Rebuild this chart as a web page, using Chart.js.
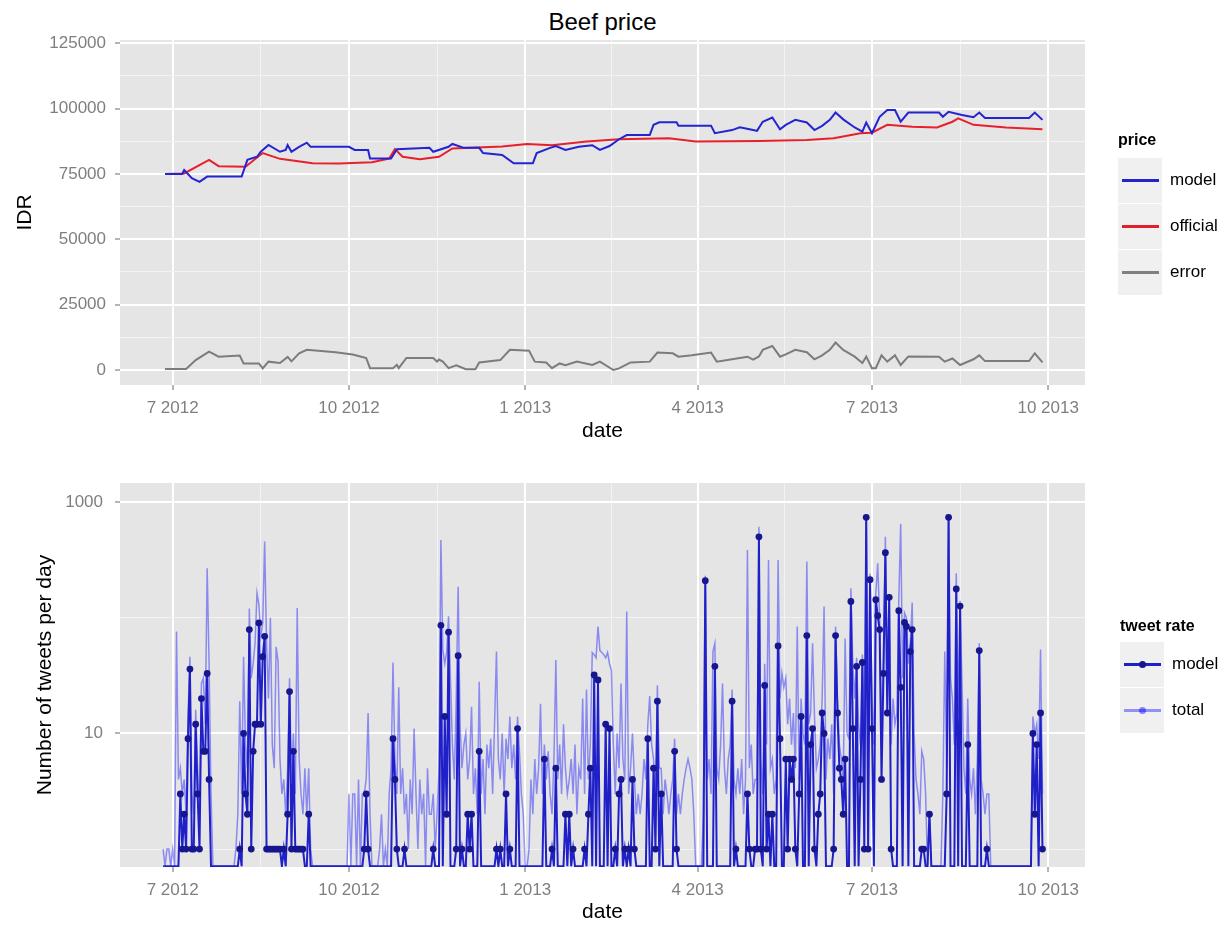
<!DOCTYPE html>
<html>
<head>
<meta charset="utf-8">
<title>Beef price</title>
<script src="https://cdn.jsdelivr.net/npm/chart.js@4.4.0/dist/chart.umd.min.js"></script>
<style>
  body { margin: 0; background: #fff; font-family: 'Liberation Sans', Arial, sans-serif; }
  #fig { position: relative; width: 1228px; height: 927px; overflow: hidden; background: #fff; }
  #fig canvas { position: absolute; left: 0; }
  .title { position: absolute; left: 120px; width: 965px; text-align: center; font-size: 24px; color: #000; }
  .lg-title { position: absolute; font-weight: bold; font-size: 16px; color: #000; line-height: 20px; }
  .key { position: absolute; width: 44px; height: 45px; background: #f0f0f0; }
  .key i { position: absolute; left: 4px; width: 37px; top: 21px; height: 3px; }
  .key b { position: absolute; left: 19px; top: 19px; width: 7px; height: 7px; border-radius: 50%; }
  .lab { position: absolute; font-size: 17px; color: #000; line-height: 20px; }
</style>
</head>
<body>
<div id="fig">
  <div class="title" style="top:8px">Beef price</div>
  <canvas id="priceChart" width="1228" height="460" style="top:0"></canvas>
  <canvas id="tweetChart" width="1228" height="467" style="top:460px"></canvas>

  <div class="lg-title" style="left:1118px;top:130px">price</div>
  <div class="key" style="left:1118px;top:158px"><i style="background:#2424c8"></i></div>
  <div class="lab" style="left:1170px;top:170px">model</div>
  <div class="key" style="left:1118px;top:204px"><i style="background:#e0202c"></i></div>
  <div class="lab" style="left:1170px;top:216px">official</div>
  <div class="key" style="left:1118px;top:250px"><i style="background:#808080"></i></div>
  <div class="lab" style="left:1170px;top:262px">error</div>

  <div class="lg-title" style="left:1120px;top:616px">tweet rate</div>
  <div class="key" style="left:1120px;top:642px"><i style="background:#2020c8"></i><b style="background:#16168f"></b></div>
  <div class="lab" style="left:1172px;top:654px">model</div>
  <div class="key" style="left:1120px;top:688px"><i style="background:rgba(0,0,255,0.4)"></i><b style="background:rgba(0,0,255,0.45)"></b></div>
  <div class="lab" style="left:1172px;top:700px">total</div>
</div>

<script>
// All x values are days counted from this date.
const EPOCH = '2012-07-01';
const dayOf = s => (Date.parse(s) - Date.parse(EPOCH)) / 864e5;

// x-axis breaks (month, year)
const monthTicks  = ['2012-07-01', '2012-10-01', '2013-01-01', '2013-04-01', '2013-07-01', '2013-10-01'];
const monthLabels = ['7 2012', '10 2012', '1 2013', '4 2013', '7 2013', '10 2013'];

// y-axis breaks
const priceTicks = [0, 25000, 50000, 75000, 100000, 125000];
const tweetTicks = [10, 1000];
const tweetMinorTicks = [1, 100];

// Beef price, IDR: [day since 2012-07-01, price]
const modelPrice = [
  [-4,75000],[5,75000],[6,76500],[10,73400],[14,72000],[18,74000],[36,74000],[39,80400],
  [44,81600],[46,83500],[50,86100],[56,83500],[59,84200],[60,86100],[62,83500],[66,85400],
  [70,87000],[72,85400],[92,85400],[95,84200],[102,84200],[103,80900],[114,80900],[117,84500],
  [134,85000],[136,83500],[144,85400],[146,86500],[152,85000],[160,85000],[162,83000],[172,82300],
  [178,79100],[188,79100],[190,83000],[197,85000],[200,85700],[205,84200],[212,85400],[219,86000],
  [223,84200],[228,85700],[233,88300],[237,89900],[249,89900],[251,93800],[254,94800],[263,94800],
  [264,93500],[281,93500],[283,90600],[292,91800],[296,92900],[303,91800],[305,91500],[308,95000],
  [313,96600],[317,92100],[320,93800],[325,95700],[331,94700],[335,91800],[339,93400],[343,95700],
  [346,98500],[350,95900],[356,92800],[360,91200],[362,94700],[365,90600],[369,96900],[373,99500],
  [377,99500],[380,95000],[384,98500],[400,98500],[402,96900],[405,98800],[412,97600],[418,96700],
  [421,98500],[424,96400],[447,96400],[450,98500],[454,95700]
];
const officialPrice = [
  [-4,75000],[6,75200],[19,80400],[24,78000],[38,77800],[47,83000],[56,80800],[73,79100],
  [87,79000],[104,79500],[113,80900],[116,84500],[120,81600],[129,80600],[139,81600],[146,84800],
  [172,85500],[185,86500],[198,86000],[216,87400],[233,88300],[259,88700],[273,87400],[306,87600],
  [331,88000],[345,88700],[359,90600],[365,90800],[373,93800],[386,93100],[399,92800],[407,95000],
  [410,96300],[418,93800],[435,92800],[454,92100]
];
const priceError = [
  [-4,400],[7,400],[12,3800],[19,7000],[24,5100],[35,5500],[37,2500],[45,2500],[47,600],
  [50,3200],[56,2700],[60,5000],[62,3300],[66,6400],[70,7700],[85,6800],[94,5900],[101,4600],
  [103,700],[115,700],[117,2000],[118,700],[122,4600],[136,4600],[138,3200],[139,4000],[141,3200],
  [144,700],[148,1800],[153,300],[158,300],[160,2900],[171,3800],[176,7700],[186,7400],[189,3200],
  [195,2900],[198,700],[202,2500],[205,1800],[211,3200],[219,1900],[223,3200],[230,0],[233,600],
  [239,2900],[249,3200],[253,6700],[261,6400],[264,5100],[271,5600],[281,6700],[284,3200],
  [292,4100],[300,5100],[303,4000],[306,5200],[308,7700],[313,9200],[317,5100],[320,6000],
  [325,7700],[331,6800],[335,4100],[339,5600],[343,7700],[346,10500],[350,7700],[356,5100],
  [360,2700],[362,5100],[365,700],[367,700],[370,5600],[373,3200],[377,5600],[380,1900],
  [384,5200],[400,5100],[403,3200],[407,4400],[411,1900],[418,4100],[421,5600],[424,3400],
  [447,3400],[450,6400],[454,2900]
];

// Tweets per day, one value per day starting on this date
const tweetFirstDay = '2012-06-26';
const modelTweets = [
  0,0,0,0,0,0,0,0,0,3,        1,2,1,9,36,1,1,12,3,1,
  20,7,7,33,4,0,0,0,0,0,      0,0,0,0,0,0,0,0,0,0,
  1,0,10,3,2,79,1,7,12,12,    90,12,46,69,1,1,1,1,1,1,
  1,1,0,1,0,2,23,1,7,1,       1,1,1,1,0,0,2,0,0,0,
  0,0,0,0,0,0,0,0,0,0,        0,0,0,0,0,0,0,0,0,0,
  0,0,0,0,0,1,3,1,0,0,        0,0,0,0,0,0,0,0,0,0,
  9,4,1,0,0,0,1,0,0,0,        0,0,0,0,0,0,0,0,0,0,
  0,1,0,0,0,86,0,14,2,75,     0,0,0,1,47,0,1,0,0,2,
  1,2,0,0,0,7,0,0,0,0,        0,0,0,0,1,0,1,0,0,3,
  0,1,0,0,0,11,0,0,0,0,       0,0,0,0,0,0,0,0,0,6,
  0,0,0,1,0,5,0,0,0,0,        2,0,2,0,1,0,0,0,0,0,
  1,0,2,5,0,32,0,29,0,0,      0,12,0,11,0,0,1,0,3,4,
  0,1,0,1,0,4,1,0,0,0,        0,0,0,9,0,0,5,1,19,0,
  3,0,0,0,0,0,0,7,1,0,        0,0,0,0,0,0,0,0,0,0,
  0,0,0,209,0,0,0,0,38,0,     0,0,0,0,0,0,0,19,0,1,
  0,0,0,0,0,3,1,0,0,1,        1,500,1,0,26,1,2,0,2,0,
  0,57,9,0,0,6,1,6,4,6,       1,0,3,14,0,0,70,0,8,11,
  1,0,2,3,15,10,0,0,0,0,      1,70,15,5,4,2,6,0,0,138,
  11,0,38,0,4,41,1,738,1,213, 11,0,143,104,79,4,33,365,15,150,
  1,0,0,0,115,25,0,91,84,0,   51,79,0,0,0,0,1,1,0,0,
  2,0,0,0,0,0,0,0,0,3,        738,0,0,0,177,0,126,0,0,0,
  8,0,0,0,0,0,52,0,0,0,       1,0,0,0,0,0,0,0,0,0,
  0,0,0,0,0,0,0,0,0,0,        0,0,0,0,10,2,8,0,15,1
];
const totalTweets = [
  1,0,1,1,0,1,0,76,4,5,       3,4,2,14,46,3,2,16,5,2,
  27,30,12,268,40,3,0,0,0,0,  0,0,0,0,0,0,0,0,1,2,
  19,3,46,8,5,120,30,40,60,163, 130,70,90,455,60,20,100,8,5,56,
  42,6,3,4,2,5,30,4,10,3,     121,6,3,2,5,2,5,1,0,0,
  0,0,0,0,0,0,0,0,0,0,        0,0,0,0,0,0,0,3,0,3,
  3,0,4,0,3,3,4,15,2,0,       0,0,0,1,2,0,1,0,3,5,
  41,6,3,25,3,5,2,3,1,4,      2,11,3,1,4,2,3,0,5,2,
  2,3,1,2,5,470,53,40,50,103, 30,8,4,20,185,12,5,8,10,4,
  6,17,3,5,2,28,3,6,2,8,      5,9,3,12,51,6,4,10,3,9,
  6,14,5,8,4,14,7,3,2,0,      0,1,4,2,6,3,5,18,3,8,
  4,7,3,2,6,43,4,8,3,12,      5,3,4,6,3,8,2,5,4,20,
  3,24,4,8,50,48,45,84,52,50, 48,45,50,40,35,8,3,10,5,27,
  6,4,113,3,5,10,4,2,3,2,     3,6,4,12,21,8,6,3,26,5,
  5,2,4,3,2,3,4,9,2,3,        2,3,4,5,6,5,4,2,0,0,
  0,0,2,230,4,6,3,51,60,5,    4,8,27,5,3,6,8,24,4,3,
  5,3,6,2,4,385,5,8,3,4,      4,612,6,3,40,8,315,5,6,3,
  4,315,20,33,25,30,12,20,8,15, 5,84,4,20,10,8,306,12,15,60,
  14,5,6,8,20,125,4,9,6,12,   3,84,20,8,6,4,66,10,9,180,
  40,20,45,12,8,48,10,760,15,240, 20,8,160,295,100,10,45,500,30,160,
  8,20,12,15,140,650,30,110,100,40, 60,135,10,4,3,2,7,6,3,0,
  2,0,0,0,0,0,0,3,51,5,       760,30,20,8,242,15,140,27,5,3,
  20,4,3,5,2,6,60,4,3,2,      3,3,0,0,0,0,0,0,0,0,
  0,0,0,0,0,0,0,0,0,0,        0,0,0,0,14,10,12,6,53,3
];

// ---------- shared axis helpers ----------
Chart.defaults.font.family = "'Liberation Sans', Arial, sans-serif";
Chart.defaults.color = '#7f7f7f';

const xMajor = monthTicks.map(dayOf);
const xMinor = xMajor.slice(1).map((d, i) => (d + xMajor[i]) / 2);
const X_MIN = -27.5, X_MAX = 476.2;
const TWEET_MIN = 0.71, TWEET_MAX = 1460;

function gridStyle(majors) {
  const isMajor = c => c.tick && majors.includes(c.tick.value);
  return {
    color: c => isMajor(c) ? '#ffffff' : '#f3f3f3',
    lineWidth: c => isMajor(c) ? 2 : 1,
    tickColor: c => isMajor(c) ? '#6a6a6a' : 'rgba(0,0,0,0)',
    tickLength: 5,
    tickWidth: 1,
    drawTicks: true
  };
}

function dateAxis(axisHeight, titlePad) {
  return {
    type: 'linear',
    min: X_MIN, max: X_MAX,
    bounds: 'data',
    afterBuildTicks: s => {
      s.ticks = [...xMajor, ...xMinor].sort((a, b) => a - b).map(v => ({ value: v }));
    },
    afterFit: s => { s.height = axisHeight; },
    grid: gridStyle(xMajor),
    border: { display: false },
    ticks: {
      autoSkip: false, maxRotation: 0, minRotation: 0, padding: 8,
      font: { size: 17 }, color: '#7f7f7f',
      callback: v => { const i = xMajor.indexOf(v); return i >= 0 ? monthLabels[i] : ''; }
    },
    title: { display: true, text: 'date', color: '#000', font: { size: 21 }, padding: { top: 0, bottom: titlePad } }
  };
}

const panelBackground = {
  id: 'panelBackground',
  beforeDraw(chart) {
    const { ctx, chartArea: a } = chart;
    ctx.save();
    ctx.fillStyle = '#e5e5e5';
    ctx.fillRect(a.left, a.top, a.right - a.left, a.bottom - a.top);
    ctx.restore();
  }
};

const toXY = arr => arr.map(([d, v]) => ({ x: d, y: v }));

// ---------- price panel ----------
const priceMinor = priceTicks.slice(1).map((v, i) => (v + priceTicks[i]) / 2);
new Chart(document.getElementById('priceChart'), {
  type: 'line',
  data: {
    datasets: [
      { label: 'model', data: toXY(modelPrice), borderColor: '#2424d0', borderWidth: 2 },
      { label: 'official', data: toXY(officialPrice), borderColor: '#e8202c', borderWidth: 2 },
      { label: 'error', data: toXY(priceError), borderColor: '#7c7c7c', borderWidth: 2 }
    ]
  },
  options: {
    responsive: false, animation: false,
    layout: { padding: { left: 0, right: 143, top: 40, bottom: 0 } },
    elements: { point: { radius: 0 }, line: { tension: 0 } },
    plugins: { legend: { display: false }, tooltip: { enabled: false } },
    scales: {
      x: dateAxis(75, 16),
      y: {
        type: 'linear', min: -5740, max: 126270, bounds: 'data',
        afterBuildTicks: s => {
          s.ticks = [...priceTicks, ...priceMinor].sort((a, b) => a - b).map(v => ({ value: v }));
        },
        afterFit: s => { s.width = 120; },
        grid: gridStyle(priceTicks),
        border: { display: false },
        ticks: {
          padding: 9, font: { size: 17 }, color: '#7f7f7f',
          callback: v => priceTicks.includes(v) ? String(v) : ''
        },
        title: { display: true, text: 'IDR', color: '#000', font: { size: 21 }, padding: { top: 13, bottom: 0 } }
      }
    }
  },
  plugins: [panelBackground]
});

// ---------- tweet-rate panel ----------
// A day with no tweets has log = -Inf; like the panel edge, it sits on the axis floor.
const firstDay = dayOf(tweetFirstDay);
const dailyXY = arr => arr.map((v, i) => ({ x: firstDay + i, y: v > 0 ? v : TWEET_MIN, count: v }));
const tweetAll = [...tweetMinorTicks, ...tweetTicks].sort((a, b) => a - b);

new Chart(document.getElementById('tweetChart'), {
  type: 'line',
  data: {
    datasets: [
      {
        label: 'model', data: dailyXY(modelTweets),
        borderColor: '#2020c8', borderWidth: 2,
        pointRadius: c => (c.raw && c.raw.count > 0) ? 3.4 : 0,
        pointBackgroundColor: '#16168f', pointBorderWidth: 0
      },
      {
        label: 'total', data: dailyXY(totalTweets),
        borderColor: 'rgba(0,0,255,0.4)', borderWidth: 1.5, pointRadius: 0
      }
    ]
  },
  options: {
    responsive: false, animation: false,
    layout: { padding: { left: 0, right: 143, top: 23, bottom: 0 } },
    elements: { line: { tension: 0 } },
    plugins: { legend: { display: false }, tooltip: { enabled: false } },
    scales: {
      x: dateAxis(60, 2),
      y: {
        type: 'logarithmic', min: TWEET_MIN, max: TWEET_MAX,
        afterBuildTicks: s => { s.ticks = tweetAll.map(v => ({ value: v })); },
        afterFit: s => { s.width = 120; },
        grid: gridStyle(tweetTicks),
        border: { display: false },
        ticks: {
          padding: 12, font: { size: 17 }, color: '#7f7f7f',
          callback: v => tweetTicks.includes(v) ? String(v) : ''
        },
        title: { display: true, text: 'Number of tweets per day', color: '#000', font: { size: 21 }, padding: { top: 33, bottom: 0 } }
      }
    }
  },
  plugins: [panelBackground]
});
</script>
</body>
</html>
